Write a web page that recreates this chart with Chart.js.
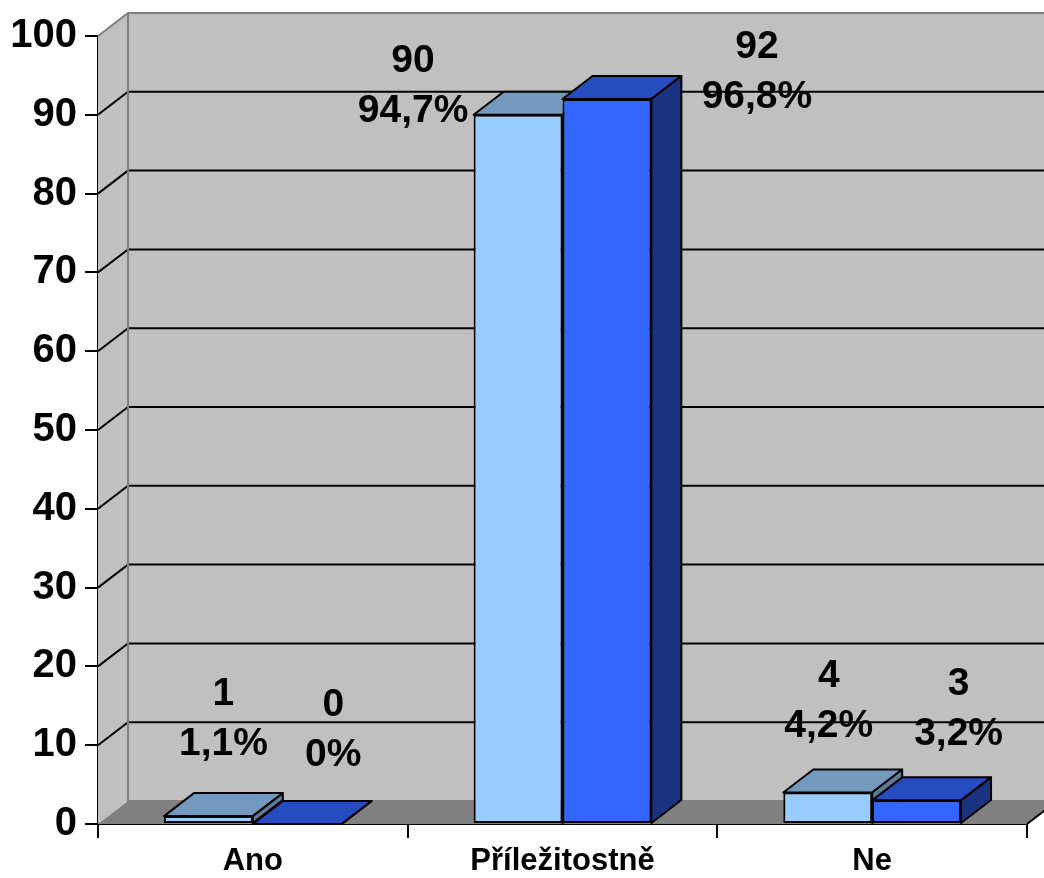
<!DOCTYPE html>
<html>
<head>
<meta charset="utf-8">
<script src="https://cdn.jsdelivr.net/npm/chart.js@4.4.0/dist/chart.umd.min.js"></script>
<style>
  html, body { margin: 0; padding: 0; background: #ffffff; }
  #wrap { width: 1044px; height: 878px; }
</style>
</head>
<body>
<div id="wrap"><canvas id="chart" width="1044" height="878"></canvas></div>
<script>
const categories = ['Ano', 'Příležitostně', 'Ne'];
const series1 = [1, 90, 4];
const series2 = [0, 92, 3];
const yTicks = [0, 10, 20, 30, 40, 50, 60, 70, 80, 90, 100];

// label placement relative to the top front edge of each bar: [dx, dy]
const labelOffsets = [
    [[15, -61], [-105, 7], [1, -55]],
    [[36, -58], [150, 9], [42, -55]]
];

const DEPTH_X = 30;
const DEPTH_Y = -23;
const FONT = 'Arial, "Liberation Sans", sans-serif';

const faceColors = [
    { front: '#99CCFF', top: '#7399BF', side: '#5C7A99' },
    { front: '#3366FF', top: '#264CBF', side: '#1A3380' }
];

function formatPercent(value, total) {
    const p = Number((value / total * 100).toFixed(1));
    return String(p).replace('.', ',') + '%';
}

function poly(ctx, pts, fill, stroke, lw) {
    ctx.beginPath();
    ctx.moveTo(pts[0][0], pts[0][1]);
    for (let i = 1; i < pts.length; i++) ctx.lineTo(pts[i][0], pts[i][1]);
    ctx.closePath();
    if (fill) { ctx.fillStyle = fill; ctx.fill(); }
    if (stroke) { ctx.strokeStyle = stroke; ctx.lineWidth = lw || 1; ctx.stroke(); }
}

function drawWalls(chart) {
    const { ctx, chartArea: a, scales } = chart;
    const y = scales.y;
    const top = a.top, bot = a.bottom, l = a.left, r = a.right;
    // back wall
    poly(ctx, [[l + DEPTH_X, top + DEPTH_Y], [r + DEPTH_X, top + DEPTH_Y],
        [r + DEPTH_X, bot + DEPTH_Y], [l + DEPTH_X, bot + DEPTH_Y]], '#C0C0C0');
    // side wall
    poly(ctx, [[l, top], [l + DEPTH_X, top + DEPTH_Y], [l + DEPTH_X, bot + DEPTH_Y], [l, bot]], '#C0C0C0');
    // floor
    poly(ctx, [[l, bot], [l + DEPTH_X, bot + DEPTH_Y], [r + DEPTH_X, bot + DEPTH_Y], [r, bot]], '#808080');

    // gridlines on side and back walls
    ctx.strokeStyle = '#000000';
    ctx.lineWidth = 2;
    yTicks.forEach(v => {
        if (v === 0 || v === 100) return;
        const py = y.getPixelForValue(v);
        ctx.beginPath();
        ctx.moveTo(l, py);
        ctx.lineTo(l + DEPTH_X, py + DEPTH_Y);
        ctx.lineTo(r + DEPTH_X, py + DEPTH_Y);
        ctx.stroke();
    });

    // wall edges
    ctx.strokeStyle = '#808080';
    ctx.beginPath();
    ctx.moveTo(l, top);
    ctx.lineTo(l + DEPTH_X, top + DEPTH_Y);
    ctx.lineTo(r + DEPTH_X, top + DEPTH_Y);
    ctx.moveTo(l + DEPTH_X, top + DEPTH_Y);
    ctx.lineTo(l + DEPTH_X, bot + DEPTH_Y);
    ctx.lineTo(r + DEPTH_X, bot + DEPTH_Y);
    ctx.stroke();
    ctx.strokeStyle = '#000000';
    ctx.beginPath();
    ctx.moveTo(r, bot);
    ctx.lineTo(r + DEPTH_X, bot + DEPTH_Y);
    ctx.stroke();
}

// walls first, then each series' bars back to front with top and side faces
const bars3dPlugin = {
    id: 'bars3d',
    beforeDatasetsDraw(chart) {
        const ctx = chart.ctx;
        ctx.save();
        drawWalls(chart);
        ctx.lineJoin = 'round';
        chart.data.datasets.forEach((ds, di) => {
            const colors = faceColors[di];
            chart.getDatasetMeta(di).data.forEach(bar => {
                bar.draw(ctx, chart.chartArea);
                const { x, y, base, width } = bar.getProps(['x', 'y', 'base', 'width'], true);
                const x0 = x - width / 2, x1 = x + width / 2;
                poly(ctx, [[x0, y], [x1, y], [x1 + DEPTH_X, y + DEPTH_Y], [x0 + DEPTH_X, y + DEPTH_Y]],
                    colors.top, '#000000', 2);
                poly(ctx, [[x1, y], [x1 + DEPTH_X, y + DEPTH_Y], [x1 + DEPTH_X, base + DEPTH_Y], [x1, base]],
                    colors.side, '#000000', 2);
            });
        });
        ctx.restore();
        return false;
    }
};

// count and share labels above the bars
const labelsPlugin = {
    id: 'valueLabels',
    afterDraw(chart) {
        const ctx = chart.ctx;
        ctx.save();
        ctx.fillStyle = '#000000';
        ctx.font = 'bold 39px ' + FONT;
        ctx.textAlign = 'center';
        ctx.textBaseline = 'alphabetic';
        chart.data.datasets.forEach((ds, di) => {
            const total = ds.data.reduce((s, v) => s + v, 0);
            chart.getDatasetMeta(di).data.forEach((bar, i) => {
                const [dx, dy] = labelOffsets[di][i];
                const lx = bar.x + dx, ly = bar.y + dy;
                ctx.fillText(String(ds.data[i]), lx, ly - 50);
                ctx.fillText(formatPercent(ds.data[i], total), lx, ly);
            });
        });
        ctx.restore();
    }
};

new Chart(document.getElementById('chart'), {
    type: 'bar',
    data: {
        labels: categories,
        datasets: [
            { data: series1, backgroundColor: faceColors[0].front },
            { data: series2, backgroundColor: faceColors[1].front }
        ]
    },
    options: {
        responsive: false,
        animation: false,
        events: [],
        layout: { padding: { top: 36, right: 17, left: 0, bottom: 0 } },
        datasets: {
            bar: {
                categoryPercentage: 0.574,
                barPercentage: 1,
                borderColor: '#000000',
                borderWidth: 2,
                borderSkipped: false
            }
        },
        scales: {
            x: {
                grid: { display: true, drawOnChartArea: false, color: '#000000', lineWidth: 2, tickLength: 14 },
                border: { display: true, color: '#000000', width: 2 },
                ticks: { color: '#000000', font: { family: FONT, size: 31, weight: 'bold' }, padding: 5 },
                afterFit(scale) { scale.height = 54; }
            },
            y: {
                min: 0,
                max: 100,
                afterBuildTicks(scale) { scale.ticks = yTicks.map(v => ({ value: v })); },
                grid: { display: true, drawOnChartArea: false, color: '#000000', lineWidth: 2, tickLength: 13 },
                border: { display: true, color: '#000000', width: 2 },
                ticks: { color: '#000000', font: { family: FONT, size: 40, weight: 'bold' }, padding: 8 },
                afterFit(scale) { scale.width = 98; }
            }
        },
        plugins: {
            legend: { display: false },
            tooltip: { enabled: false },
            title: { display: false }
        }
    },
    plugins: [bars3dPlugin, labelsPlugin]
});
</script>
</body>
</html>
